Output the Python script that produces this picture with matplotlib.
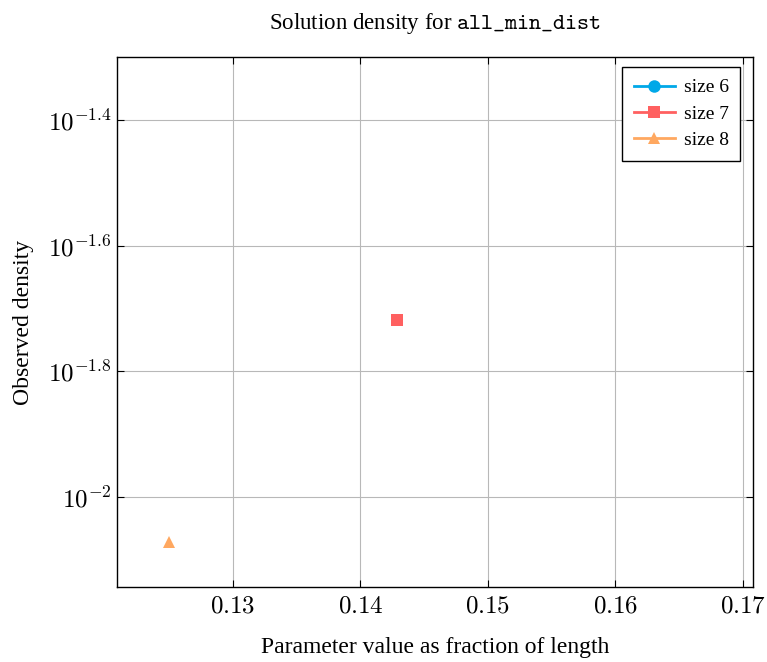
import matplotlib
matplotlib.use("Agg")
import matplotlib.pyplot as plt
from matplotlib.ticker import FixedLocator, FixedFormatter, NullLocator

plt.rcParams['font.family'] = ['Liberation Serif', 'DejaVu Serif']
plt.rcParams['mathtext.fontset'] = 'cm'

# data
sizes = ["size 6", "size 7", "size 8"]
x6, y6 = [], []
x7, y7 = [1 / 7], [0.01914]
x8, y8 = [1 / 8], [0.00848]
colors = ["#00A8E8", "#FF6060", "#FFA860"]
markers = ["o", "s", "^"]

xticks = [0.13, 0.14, 0.15, 0.16, 0.17]
yexp = [-2.0, -1.8, -1.6, -1.4]

fig = plt.figure(figsize=(7.67, 6.62), dpi=100)
ax = fig.add_axes([0.1525, 0.1133, 0.8292, 0.8006])
ax.set_yscale('log')

for (xs, ys), lab, c, m in zip([(x6, y6), (x7, y7), (x8, y8)], sizes, colors, markers):
    ax.plot(xs, ys, color=c, marker=m, markersize=9, linewidth=2,
            label=lab, markeredgewidth=0)

ax.set_xlim(0.1209, 0.1708)
ax.set_ylim(10 ** -2.143, 10 ** -1.3)

ax.xaxis.set_major_locator(FixedLocator(xticks))
ax.xaxis.set_major_formatter(FixedFormatter([r"$%.2f$" % v for v in xticks]))
ax.yaxis.set_major_locator(FixedLocator([10 ** e for e in yexp]))
ax.yaxis.set_major_formatter(FixedFormatter(
    [r"$10^{-2}$" if e == -2.0 else r"$10^{%.1f}$" % e for e in yexp]))
ax.yaxis.set_minor_locator(NullLocator())
ax.xaxis.set_minor_locator(NullLocator())

ax.tick_params(direction='in', top=True, right=True, labelsize=18, length=5,
               width=0.8)
ax.tick_params(axis='y', pad=4)
ax.tick_params(axis='x', pad=6)
ax.grid(True, color='#b8b8b8', linewidth=0.8)
ax.set_axisbelow(True)
for s in ax.spines.values():
    s.set_linewidth(1.0)

ax.set_xlabel("Parameter value as fraction of length", fontsize=17, labelpad=14)
ax.set_ylabel("Observed density", fontsize=17, labelpad=10)
ax.set_title(r"Solution density for $\mathtt{all\_min\_dist}$", fontsize=16.5, pad=20)

leg = ax.legend(loc='upper right', bbox_to_anchor=(0.98, 0.981), fontsize=14,
                frameon=True, fancybox=False, edgecolor='black', framealpha=1,
                handlelength=2.1, borderpad=0.6, labelspacing=0.45,
                handletextpad=0.45, borderaxespad=0)
leg.get_frame().set_linewidth(1.0)

fig.savefig("out.png", dpi=100)
